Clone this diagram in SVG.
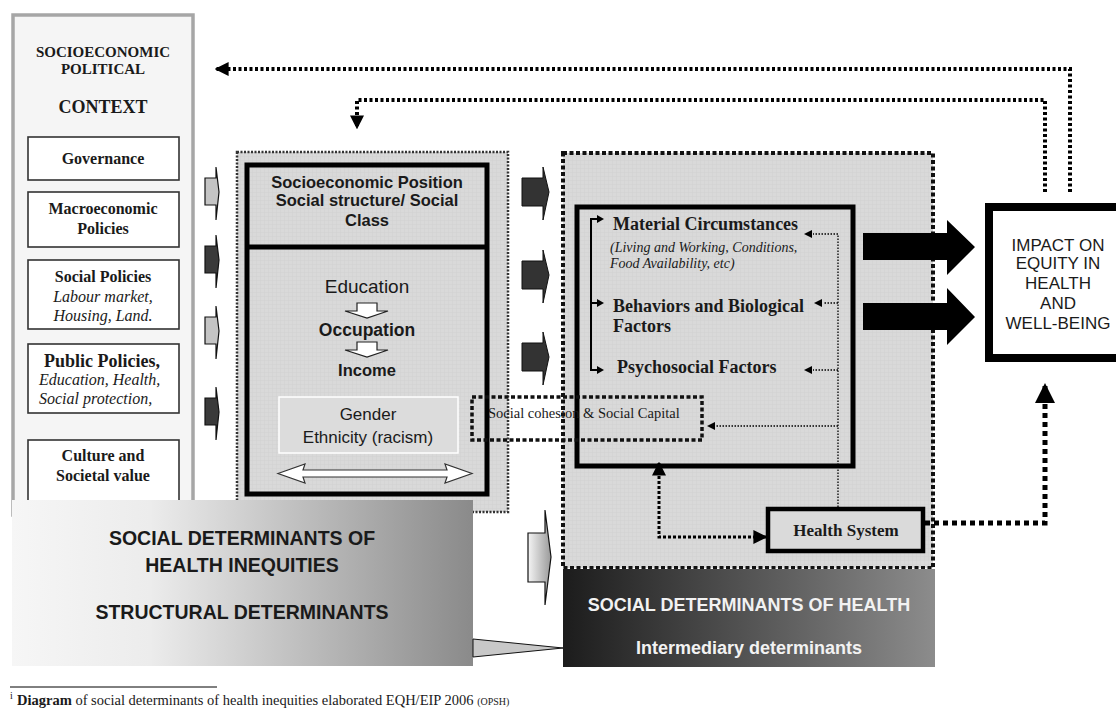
<svg xmlns="http://www.w3.org/2000/svg" width="1116" height="711" viewBox="0 0 1116 711">
<style>
.serif{font-family:"Liberation Serif","Times New Roman",serif;fill:#1a1a1a}
.sans{font-family:"Liberation Sans",Arial,sans-serif;fill:#1a1a1a}
.b{font-weight:bold}
.i{font-style:italic}
.lbox{fill:#ffffff;stroke:#333;stroke-width:1.6}
.thick{fill:none;stroke:#000;stroke-width:5}
.mid{text-anchor:middle}
</style>
<defs>
<pattern id="grid" width="4" height="4" patternUnits="userSpaceOnUse">
<rect width="4" height="4" fill="#d9d9d9"/>
<path d="M0,0H4M0,0V4" stroke="#cfcfcf" stroke-width="0.8"/>
</pattern>
<linearGradient id="gl" x1="0" y1="0" x2="1" y2="0">
<stop offset="0" stop-color="#f6f6f6"/>
<stop offset="0.3" stop-color="#ececec"/>
<stop offset="1" stop-color="#8a8a8a"/>
</linearGradient>
<linearGradient id="gr" x1="0" y1="0" x2="1" y2="0">
<stop offset="0" stop-color="#1c1c1c"/>
<stop offset="1" stop-color="#8c8c8c"/>
</linearGradient>
<linearGradient id="gs" x1="0" y1="0" x2="1" y2="0">
<stop offset="0" stop-color="#f4f4f4"/>
<stop offset="1" stop-color="#9a9a9a"/>
</linearGradient>
<marker id="ah" viewBox="0 0 10 10" refX="9" refY="5" markerWidth="14" markerHeight="14" markerUnits="userSpaceOnUse" orient="auto-start-reverse">
<path d="M0,0L10,5L0,10Z" fill="#000"/>
</marker>
<marker id="ahb" viewBox="0 0 10 10" refX="9" refY="5" markerWidth="20" markerHeight="20" markerUnits="userSpaceOnUse" orient="auto-start-reverse">
<path d="M0,0L10,5L0,10Z" fill="#000"/>
</marker>
<path id="blk" d="M0,-14L11,-14L11,-25L14,0L11,28L11,13L0,13Z"/>
<path id="blk2" d="M0,-14L21,-14L21,-25L27,0L21,28L21,14L0,14Z"/>
</defs>
<rect width="1116" height="711" fill="#fff"/>

<g id="context">
<rect x="13" y="15" width="180" height="500" fill="#f5f5f5" stroke="#a6a6a6" stroke-width="3.5"/>
<text class="serif b mid" x="103" y="57" font-size="15">SOCIOECONOMIC</text>
<text class="serif b mid" x="103" y="74" font-size="15">POLITICAL</text>
<text class="serif b mid" x="103" y="113" font-size="18">CONTEXT</text>
</g>
<g id="governance">
<rect class="lbox" x="28" y="137" width="151" height="43"/>
<text class="serif b mid" x="103" y="164" font-size="16">Governance</text>
</g>
<g id="macro">
<rect class="lbox" x="28" y="192" width="151" height="55"/>
<text class="serif b mid" x="103" y="214" font-size="16">Macroeconomic</text>
<text class="serif b mid" x="103" y="234" font-size="16">Policies</text>
</g>
<g id="social-policies">
<rect class="lbox" x="28" y="260" width="151" height="69"/>
<text class="serif b mid" x="103" y="282" font-size="16">Social Policies</text>
<text class="serif i mid" x="103" y="302" font-size="16">Labour market,</text>
<text class="serif i mid" x="103" y="321" font-size="16">Housing, Land.</text>
</g>
<g id="public-policies">
<rect class="lbox" x="28" y="344" width="151" height="69"/>
<text class="serif b" x="44" y="367" font-size="18">Public Policies,</text>
<text class="serif i" x="39" y="385" font-size="16">Education, Health,</text>
<text class="serif i" x="39" y="404" font-size="16">Social protection,</text>
</g>
<g id="culture">
<rect class="lbox" x="28" y="440" width="151" height="70"/>
<text class="serif b mid" x="103" y="461" font-size="16">Culture and</text>
<text class="serif b mid" x="103" y="481" font-size="16">Societal value</text>
</g>

<g id="structural-box">
<rect x="237" y="152" width="271" height="360" fill="url(#grid)" stroke="#333" stroke-width="2.5" stroke-dasharray="2 1.5"/>
<rect class="thick" x="247" y="165" width="240" height="329"/>
<line x1="247" y1="247" x2="487" y2="247" stroke="#000" stroke-width="5"/>
<text class="sans b mid" x="367" y="188" font-size="16.5">Socioeconomic  Position</text>
<text class="sans b mid" x="367" y="206" font-size="16.5">Social structure/ Social</text>
<text class="sans b mid" x="367" y="226" font-size="16.5">Class</text>
<text class="sans mid" x="367" y="293" font-size="19">Education</text>
<text class="sans b mid" x="367" y="336" font-size="17.5">Occupation</text>
<text class="sans b mid" x="367" y="376" font-size="16.5">Income</text>
<path d="M357,303H377V311H388L367,318L345,311H357Z" fill="#fff" stroke="#222" stroke-width="1.2"/>
<path d="M357,342H377V350H388L367,357L345,350H357Z" fill="#fff" stroke="#222" stroke-width="1.2"/>
</g>
<g id="gender">
<rect x="279" y="397" width="179" height="56" fill="#dcdcdc" stroke="#fff" stroke-width="1.5"/>
<text class="sans mid" x="368" y="420" font-size="17">Gender</text>
<text class="sans mid" x="368" y="443" font-size="17">Ethnicity (racism)</text>
<path d="M278,473.5L305,464L303,470H447L445,464L472,473.5L445,483L447,477H303L305,483Z" fill="#fff" stroke="#333" stroke-width="1.2"/>
</g>

<g id="intermediary-box">
<rect x="563" y="153" width="370" height="415" fill="url(#grid)" stroke="#111" stroke-width="4" stroke-dasharray="4 2.5"/>
<rect class="thick" x="577" y="207" width="276" height="259"/>
<path d="M600,219H591V370H600M591,303H600" fill="none" stroke="#000" stroke-width="2"/>
<path d="M597,215L604,219L597,223Z M597,299L604,303L597,307Z M597,366L604,370L597,374Z" fill="#000"/>
<text class="serif b" x="613" y="230" font-size="18">Material Circumstances</text>
<text class="serif i" x="610" y="252" font-size="14">(Living and Working, Conditions,</text>
<text class="serif i" x="610" y="268" font-size="14">Food   Availability, etc)</text>
<text class="serif b" x="613" y="312" font-size="18">Behaviors and Biological</text>
<text class="serif b" x="613" y="332" font-size="18">Factors</text>
<text class="serif b" x="617" y="373" font-size="18">Psychosocial Factors</text>
</g>

<g id="social-cohesion">
<rect x="472" y="397" width="230" height="43" fill="none" stroke="#111" stroke-width="3.5" stroke-dasharray="4 2.5"/>
<text class="serif" x="488" y="418" font-size="14.5">Social cohesion &amp;  Social Capital</text>
</g>

<g id="health-system">
<rect x="768" y="509" width="155" height="42" fill="#dadada" stroke="#000" stroke-width="4.5"/>
<text class="serif b mid" x="846" y="536" font-size="17">Health System</text>
</g>

<g id="impact">
<rect x="989" y="207" width="140" height="151" fill="#fff" stroke="#000" stroke-width="8"/>
<text class="sans mid" x="1058" y="251" font-size="17">IMPACT ON</text>
<text class="sans mid" x="1058" y="269" font-size="17">EQUITY IN</text>
<text class="sans mid" x="1058" y="289" font-size="17">HEALTH</text>
<text class="sans mid" x="1058" y="309" font-size="17">AND</text>
<text class="sans mid" x="1058" y="329" font-size="17">WELL-BEING</text>
</g>

<g id="structural-band">
<rect x="12" y="500" width="461" height="166" fill="url(#gl)"/>
<text class="sans b mid" x="242" y="545" font-size="19.5" fill="#222">SOCIAL DETERMINANTS OF</text>
<text class="sans b mid" x="242" y="572" font-size="19.5" fill="#222">HEALTH INEQUITIES</text>
<text class="sans b mid" x="242" y="619" font-size="19.5" fill="#222">STRUCTURAL DETERMINANTS</text>
</g>
<g id="intermediary-band">
<rect x="563" y="569" width="372" height="98" fill="url(#gr)"/>
<text class="sans b mid" x="749" y="611" font-size="18" style="fill:#f2f2f2">SOCIAL DETERMINANTS OF HEALTH</text>
<text class="sans b mid" x="749" y="654" font-size="18" style="fill:#f2f2f2">Intermediary determinants</text>
</g>

<g id="connectors">
<use href="#blk" x="205" y="192" fill="#c4c4c4" stroke="#111" stroke-width="1.2"/>
<use href="#blk" x="205" y="260" fill="#3a3a3a" stroke="#111" stroke-width="1.2"/>
<use href="#blk" x="205" y="331" fill="#c4c4c4" stroke="#111" stroke-width="1.2"/>
<use href="#blk" x="205" y="412" fill="#3a3a3a" stroke="#111" stroke-width="1.2"/>
<use href="#blk2" x="522" y="192" fill="#333" stroke="#111" stroke-width="1"/>
<use href="#blk2" x="522" y="275" fill="#333" stroke="#111" stroke-width="1"/>
<use href="#blk2" x="522" y="357" fill="#333" stroke="#111" stroke-width="1"/>
<path d="M528,533H545V510L551,557L545,605V582H528Z" fill="url(#gs)" stroke="#111" stroke-width="1.2"/>
<path d="M473,639L563,648L473,657Z" fill="#c8c8c8" stroke="#111" stroke-width="1"/>
<path d="M863,233H947V220L975,247L947,275V260H863Z" fill="#000"/>
<path d="M863,303H947V288L975,317L947,345V330H863Z" fill="#000"/>
<path d="M1070,192V69H216" fill="none" stroke="#000" stroke-width="4" stroke-dasharray="3 2.5" marker-end="url(#ah)"/>
<path d="M1045,192V100H357V128" fill="none" stroke="#000" stroke-width="4" stroke-dasharray="3 2.5" marker-end="url(#ah)"/>
<path d="M925,523H1045V385" fill="none" stroke="#000" stroke-width="5" stroke-dasharray="5 4" marker-end="url(#ahb)"/>
<path d="M766,537H659V463" fill="none" stroke="#000" stroke-width="3" stroke-dasharray="3 2" marker-start="url(#ah)" marker-end="url(#ah)"/>
<path d="M838,507V234H813M838,303H823M838,370H813M838,426H716" fill="none" stroke="#000" stroke-width="1.3" stroke-dasharray="1.5 1.5"/>
<path d="M812,230L804,234L812,238Z M822,299L814,303L822,307Z M812,366L804,370L812,374Z M715,422L707,426L715,430Z" fill="#000"/>
</g>

<g id="footnote">
<line x1="10" y1="687" x2="217" y2="687" stroke="#000" stroke-width="1"/>
<text class="serif" x="10" y="699" font-size="10">i</text>
<text class="serif" x="17" y="705" font-size="14.5"><tspan font-weight="bold">Diagram</tspan> of social determinants of  health inequities elaborated EQH/EIP 2006 <tspan font-size="10">(OPSH)</tspan></text>
</g>
</svg>
